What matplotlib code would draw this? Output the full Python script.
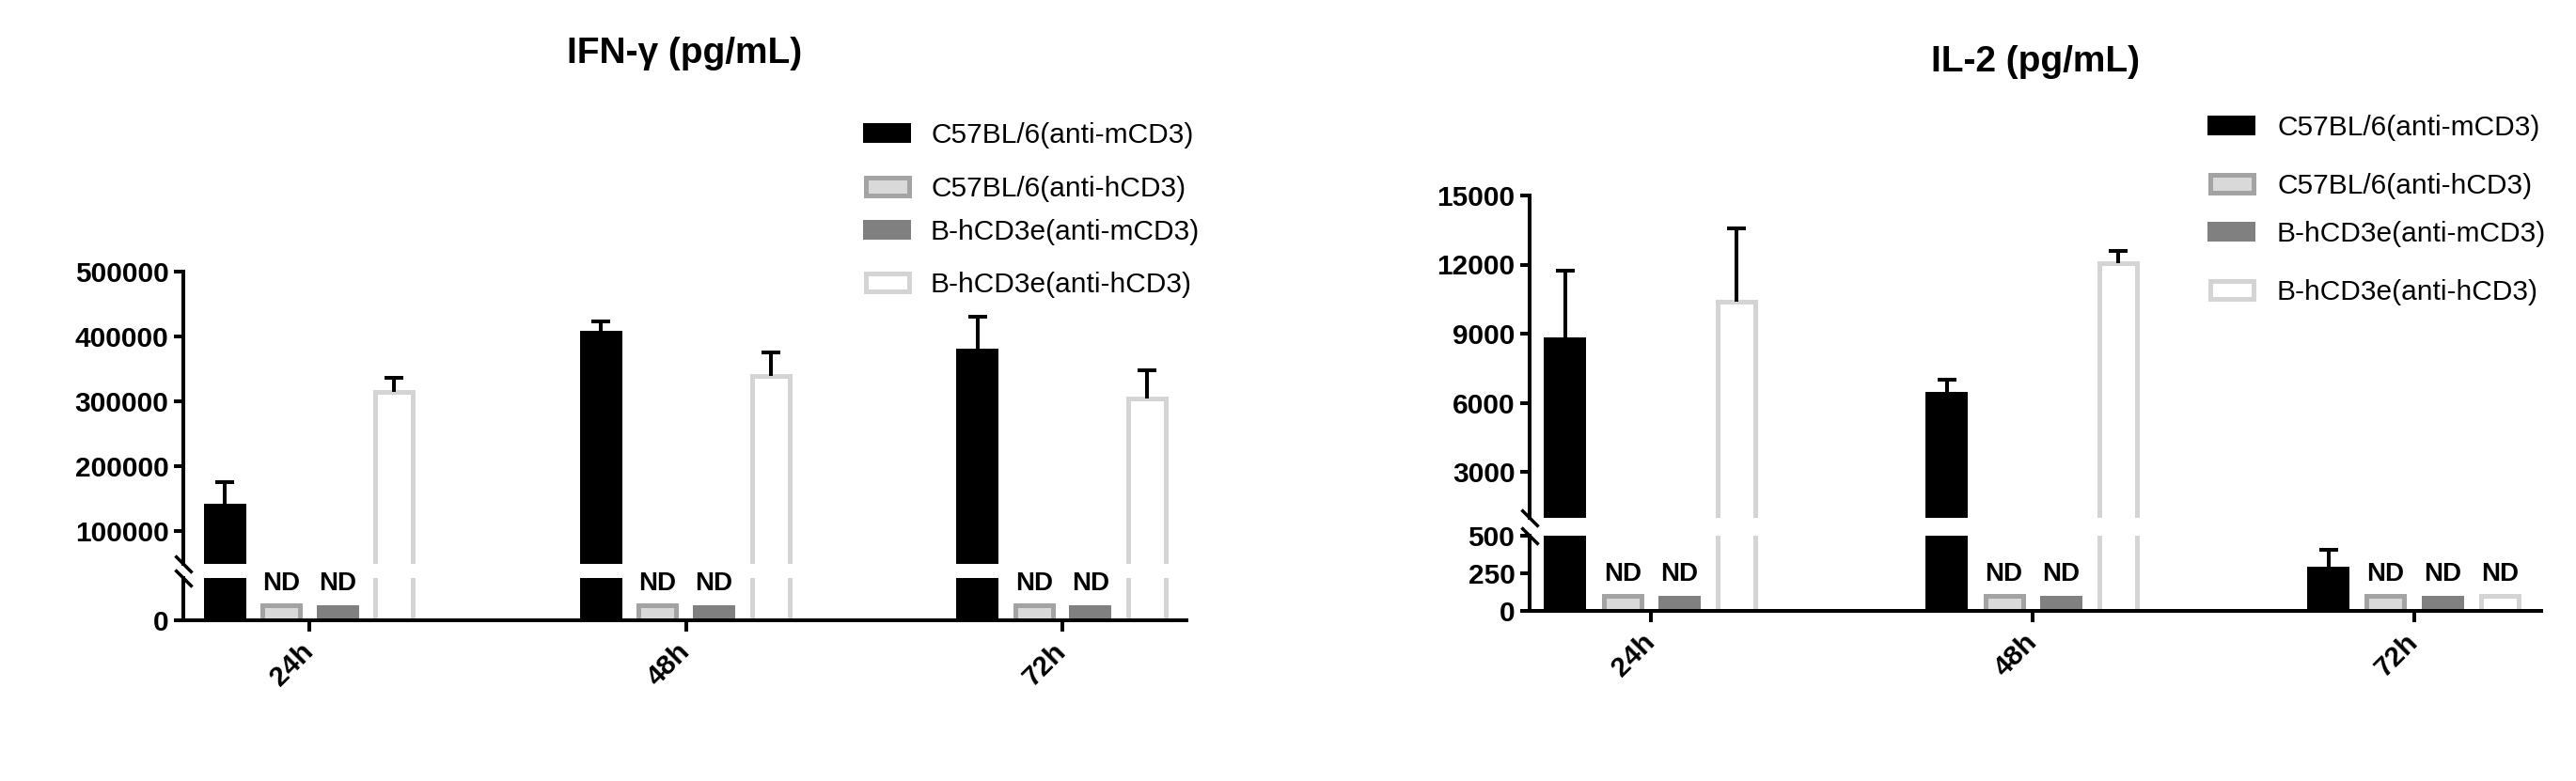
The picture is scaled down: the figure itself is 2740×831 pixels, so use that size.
import matplotlib
matplotlib.use("Agg")
import matplotlib.pyplot as plt
import matplotlib.patches as mpatches
import numpy as np

# ---------------- data ----------------
times = ["24h", "48h", "72h"]
series_names = ["C57BL/6(anti-mCD3)", "C57BL/6(anti-hCD3)",
                "B-hCD3e(anti-mCD3)", "B-hCD3e(anti-hCD3)"]

# IFN-gamma (pg/mL); None = ND (not detected)
ifn_c57_mcd3 = [142000, 409000, 382000]
ifn_c57_mcd3_err = [34500, 15000, 48000]
ifn_c57_hcd3 = [None, None, None]
ifn_b_mcd3 = [None, None, None]
ifn_b_hcd3 = [315000, 339000, 305000]
ifn_b_hcd3_err = [21000, 36000, 43000]
ifn_nd_height = 18000

# IL-2 (pg/mL)
il2_c57_mcd3 = [8855, 6460, 292]
il2_c57_mcd3_err = [2900, 560, 117]
il2_c57_hcd3 = [None, None, None]
il2_b_mcd3 = [None, None, None]
il2_b_hcd3 = [10380, 12050, None]
il2_b_hcd3_err = [3180, 540, None]
il2_nd_height = 100

ifn_upper_ticks = [100000, 200000, 300000, 400000, 500000]
ifn_lower_ticks = [0]
il2_upper_ticks = [3000, 6000, 9000, 12000, 15000]
il2_lower_ticks = [0, 250, 500]

# ---------------- style ----------------
W, H = 2740, 831
DPI = 100
PX = 72.0 / DPI  # points per pixel
FONT = ["Liberation Sans", "DejaVu Sans"]
plt.rcParams["font.family"] = FONT

EDGE_PX = 5
styles = [
    dict(fc="#000000", ec="#000000", lw=0),
    dict(fc="#d9d9d9", ec="#a3a3a3", lw=EDGE_PX),
    dict(fc="#808080", ec="#808080", lw=0),
    dict(fc="#ffffff", ec="#d4d4d4", lw=EDGE_PX),
]
offsets = [-0.225, -0.075, 0.075, 0.225]
SPINE_LW = 4 * PX

fig = plt.figure(figsize=(W / DPI, H / DPI), dpi=DPI)


def fbox(x0, x1, ytop, ybot):
    return [x0 / W, 1 - ybot / H, (x1 - x0) / W, (ybot - ytop) / H]


def panel(xpx, upper_px, lower_px, upper_lim, lower_lim, utick, ltick,
          series, errs, nd_height, unit_px, xlim, title, title_base):
    ax_t = fig.add_axes(fbox(xpx[0], xpx[1], upper_px[0], upper_px[1]))
    ax_b = fig.add_axes(fbox(xpx[0], xpx[1], lower_px[0], lower_px[1]))
    x = np.arange(len(times))
    for i, (vals, st) in enumerate(zip(series, styles)):
        heights = [nd_height if v is None else v for v in vals]
        w = (45 - st["lw"]) / unit_px
        for ax in (ax_t, ax_b):
            ax.bar(x + offsets[i], heights, width=w, color=st["fc"],
                   edgecolor=st["ec"], linewidth=st["lw"] * PX, zorder=2)
        e = errs[i]
        if e is not None:
            for j, (v, ev) in enumerate(zip(vals, e)):
                if v is None or ev is None:
                    continue
                for ax in (ax_t, ax_b):
                    cont = ax.errorbar(x[j] + offsets[i], v,
                                       yerr=[[0], [ev]], fmt="none",
                                       ecolor="black", elinewidth=4 * PX,
                                       capsize=10 * PX, capthick=4 * PX,
                                       zorder=3)
                    # keep only the upper cap
                    for cap in cont[1]:
                        if np.allclose(cap.get_ydata(), v):
                            cap.set_visible(False)
        for j, v in enumerate(vals):
            if v is None:
                ax_b.annotate("ND", (x[j] + offsets[i], nd_height),
                              xytext=(0, 11.5), textcoords="offset points",
                              ha="center", va="baseline", fontsize=20,
                              fontweight="bold", family=FONT)
    for ax in (ax_t, ax_b):
        ax.set_xlim(*xlim)
        ax.spines["top"].set_visible(False)
        ax.spines["right"].set_visible(False)
        ax.spines["left"].set_linewidth(SPINE_LW)
        ax.spines["bottom"].set_linewidth(SPINE_LW)
        ax.tick_params(axis="y", length=10 * PX, width=SPINE_LW,
                       labelsize=21.5, pad=4)
        ax.patch.set_alpha(0)
    ax_t.spines["bottom"].set_visible(False)
    ax_t.set_ylim(*upper_lim)
    ax_b.set_ylim(*lower_lim)
    ax_t.set_yticks(utick)
    ax_t.set_yticklabels([str(t) for t in utick], fontweight="bold")
    ax_b.set_yticks(ltick)
    ax_b.set_yticklabels([str(t) for t in ltick], fontweight="bold")
    ax_t.tick_params(axis="x", bottom=False, labelbottom=False)
    ax_b.set_xticks(x)
    ax_b.set_xticklabels(times, fontweight="bold", fontsize=21.5,
                         rotation=45, ha="right", va="center",
                         rotation_mode="anchor")
    ax_b.tick_params(axis="x", length=12 * PX, width=SPINE_LW, pad=12)
    # break marks
    brk = [(-1, 1), (1, -1)]
    ax_t.plot([0], [0], transform=ax_t.transAxes, marker=brk,
              markersize=13, markeredgewidth=3.5 * PX, color="black",
              clip_on=False, linestyle="none")
    ax_b.plot([0], [1], transform=ax_b.transAxes, marker=brk,
              markersize=13, markeredgewidth=3.5 * PX, color="black",
              clip_on=False, linestyle="none")
    cx = (xpx[0] + xpx[1]) / 2
    fig.text(cx / W, 1 - title_base / H, title, ha="center", va="baseline",
             fontsize=28, fontweight="bold", family=FONT)


panel((195, 1262), (289, 600), (615, 660), (50000, 500000), (0, 50000),
      ifn_upper_ticks, ifn_lower_ticks,
      [ifn_c57_mcd3, ifn_c57_hcd3, ifn_b_mcd3, ifn_b_hcd3],
      [ifn_c57_mcd3_err, None, None, ifn_b_hcd3_err],
      ifn_nd_height, 400.5, (-0.335, 2.33), "IFN-γ (pg/mL)", 67)

panel((1627, 2703), (208, 551), (570, 650), (1000, 15000), (0, 500),
      il2_upper_ticks, il2_lower_ticks,
      [il2_c57_mcd3, il2_c57_hcd3, il2_b_mcd3, il2_b_hcd3],
      [il2_c57_mcd3_err, None, None, il2_b_hcd3_err],
      il2_nd_height, 406, (-0.318, 2.333), "IL-2 (pg/mL)", 76)

# ---------------- legends ----------------
LEG_FS = 21.5
fs_px = LEG_FS / PX


def legend_entries(xleft, rows, gap_px):
    for name, st, yc in zip(series_names, styles, rows):
        lw = st["lw"]
        h = mpatches.Patch(facecolor=st["fc"], edgecolor=st["ec"],
                           linewidth=lw * PX)
        hl = (51 - lw) / fs_px
        hh = (22 - lw) / fs_px
        fig.legend(handles=[h], labels=[name], loc="center left",
                   bbox_to_anchor=((xleft + lw / 2) / W, 1 - yc / H),
                   frameon=False, borderpad=0, borderaxespad=0,
                   handlelength=hl, handleheight=hh,
                   handletextpad=(gap_px + lw / 2) / fs_px,
                   prop=dict(family=FONT, size=LEG_FS))


legend_entries(918, [144, 201, 247, 303], 21)
legend_entries(2348, [136, 198, 249, 311], 23)

fig.savefig("out.png", dpi=DPI)
